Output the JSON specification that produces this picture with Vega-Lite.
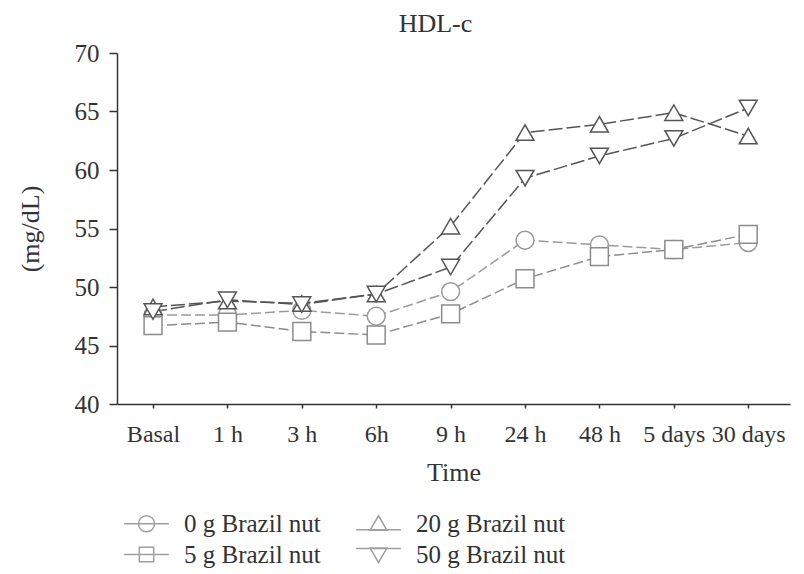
{
  "$schema": "https://vega.github.io/schema/vega-lite/v6.json",
  "width": 673,
  "height": 351,
  "autosize": {"type": "none"},
  "padding": {"left": 117, "top": 53, "right": 14, "bottom": 170},
  "background": "white",
  "title": {"text": "HDL-c", "font": "Liberation Serif", "fontSize": 26, "fontWeight": "normal", "color": "#333333", "anchor": "middle", "dx": -18, "offset": 4},
  "data": {"values": [
    {"time": "Basal", "group": "0 g Brazil nut", "value": 47.6},
    {"time": "1 h", "group": "0 g Brazil nut", "value": 47.6},
    {"time": "3 h", "group": "0 g Brazil nut", "value": 48.0},
    {"time": "6h", "group": "0 g Brazil nut", "value": 47.5},
    {"time": "9 h", "group": "0 g Brazil nut", "value": 49.6},
    {"time": "24 h", "group": "0 g Brazil nut", "value": 54.0},
    {"time": "48 h", "group": "0 g Brazil nut", "value": 53.6},
    {"time": "5 days", "group": "0 g Brazil nut", "value": 53.2},
    {"time": "30 days", "group": "0 g Brazil nut", "value": 53.8},
    {"time": "Basal", "group": "5 g Brazil nut", "value": 46.7},
    {"time": "1 h", "group": "5 g Brazil nut", "value": 47.0},
    {"time": "3 h", "group": "5 g Brazil nut", "value": 46.2},
    {"time": "6h", "group": "5 g Brazil nut", "value": 45.9},
    {"time": "9 h", "group": "5 g Brazil nut", "value": 47.7},
    {"time": "24 h", "group": "5 g Brazil nut", "value": 50.7},
    {"time": "48 h", "group": "5 g Brazil nut", "value": 52.6},
    {"time": "5 days", "group": "5 g Brazil nut", "value": 53.2},
    {"time": "30 days", "group": "5 g Brazil nut", "value": 54.5},
    {"time": "Basal", "group": "20 g Brazil nut", "value": 48.3},
    {"time": "1 h", "group": "20 g Brazil nut", "value": 48.8},
    {"time": "3 h", "group": "20 g Brazil nut", "value": 48.6},
    {"time": "6h", "group": "20 g Brazil nut", "value": 49.4},
    {"time": "9 h", "group": "20 g Brazil nut", "value": 55.2},
    {"time": "24 h", "group": "20 g Brazil nut", "value": 63.2},
    {"time": "48 h", "group": "20 g Brazil nut", "value": 63.9},
    {"time": "5 days", "group": "20 g Brazil nut", "value": 64.9},
    {"time": "30 days", "group": "20 g Brazil nut", "value": 62.9},
    {"time": "Basal", "group": "50 g Brazil nut", "value": 47.9},
    {"time": "1 h", "group": "50 g Brazil nut", "value": 48.9},
    {"time": "3 h", "group": "50 g Brazil nut", "value": 48.5},
    {"time": "6h", "group": "50 g Brazil nut", "value": 49.4},
    {"time": "9 h", "group": "50 g Brazil nut", "value": 51.7},
    {"time": "24 h", "group": "50 g Brazil nut", "value": 59.3},
    {"time": "48 h", "group": "50 g Brazil nut", "value": 61.2},
    {"time": "5 days", "group": "50 g Brazil nut", "value": 62.7},
    {"time": "30 days", "group": "50 g Brazil nut", "value": 65.3}
  ]},
  "encoding": {
    "x": {
      "field": "time", "type": "ordinal",
      "sort": ["Basal", "1 h", "3 h", "6h", "9 h", "24 h", "48 h", "5 days", "30 days"],
      "scale": {"type": "point", "domain": ["Basal", "1 h", "3 h", "6h", "9 h", "24 h", "48 h", "5 days", "30 days"], "padding": 0.523, "align": 0.463},
      "axis": {"title": "Time", "labelAngle": 0, "labelFontSize": 24, "tickSize": 4, "labelPadding": 14, "labelDx": 5, "titlePadding": 13, "grid": false}
    },
    "y": {
      "field": "value", "type": "quantitative",
      "scale": {"domain": [40, 70], "zero": false, "nice": false},
      "axis": {"title": "(mg/dL)", "values": [40, 45, 50, 55, 60, 65, 70], "tickSize": 8, "labelPadding": 10, "titlePadding": 31, "grid": false}
    }
  },
  "layer": [
    {
      "mark": {"type": "line", "strokeWidth": 1.5},
      "encoding": {
        "stroke": {"field": "group", "type": "nominal", "scale": {"domain": ["0 g Brazil nut", "5 g Brazil nut", "20 g Brazil nut", "50 g Brazil nut"], "range": ["#9a9a9a", "#8c8c8c", "#555555", "#555555"]}, "legend": null},
        "strokeDash": {"field": "group", "type": "nominal", "scale": {"domain": ["0 g Brazil nut", "5 g Brazil nut", "20 g Brazil nut", "50 g Brazil nut"], "range": [[10, 4], [10, 4], [14, 4], [14, 4]]}, "legend": null}
      }
    },
    {
      "mark": {"type": "point", "filled": false, "fill": "white", "fillOpacity": 1, "opacity": 1, "strokeWidth": 1.5, "size": 320},
      "encoding": {
        "stroke": {"field": "group", "type": "nominal", "legend": null},
        "shape": {"field": "group", "type": "nominal", "scale": {"domain": ["0 g Brazil nut", "5 g Brazil nut", "20 g Brazil nut", "50 g Brazil nut"], "range": ["circle", "square", "triangle-up", "triangle-down"]}, "legend": null}
      }
    },
    {
      "transform": [{"filter": "false"}],
      "mark": {"type": "point", "filled": false, "color": "#777777", "strokeWidth": 1.5, "size": 256},
      "encoding": {
        "shape": {
          "field": "group", "type": "nominal",
          "scale": {
            "domain": ["0 g Brazil nut", "20 g Brazil nut", "5 g Brazil nut", "50 g Brazil nut"],
            "range": [
              "M-2.8,0H2.8M1,0A1,1 0 1,1 -1,0A1,1 0 1,1 1,0",
              "M-2.8,0.75H2.8M0,-1L1.05,0.8H-1.05Z",
              "M-2.8,0H2.8M-0.9,-0.9H0.9V0.9H-0.9Z",
              "M-2.8,-0.75H2.8M0,1L1.05,-0.8H-1.05Z"
            ]
          },
          "legend": {
            "title": null, "orient": "none", "legendX": 17, "legendY": 458, "columns": 2, "direction": "horizontal",
            "labelFont": "Liberation Serif", "labelFontSize": 25, "labelColor": "#333333", "labelOffset": 25, "labelLimit": 400,
            "symbolSize": 256, "symbolStrokeColor": "#777777", "symbolStrokeWidth": 1.5, "symbolFillColor": "transparent",
            "rowPadding": 5, "columnPadding": 32, "padding": 0
          }
        }
      }
    }
  ],
  "resolve": {"scale": {"shape": "independent"}, "legend": {"shape": "independent"}},
  "config": {
    "view": {"stroke": null},
    "axis": {
      "labelFont": "Liberation Serif", "labelFontSize": 25, "labelColor": "#333333",
      "titleFont": "Liberation Serif", "titleFontSize": 26, "titleFontWeight": "normal", "titleColor": "#333333",
      "domainColor": "#333333", "domainWidth": 1.5, "tickColor": "#333333", "tickWidth": 1.5
    }
  }
}
